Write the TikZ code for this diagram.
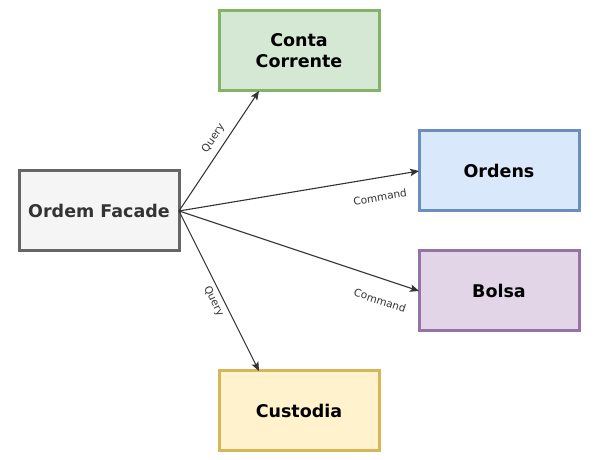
\documentclass[tikz,border=0pt]{standalone}
\usepackage{fontspec}
\setmainfont{DejaVu Sans}
\usetikzlibrary{arrows.meta}
\definecolor{grayfill}{HTML}{F5F5F5}
\definecolor{graystroke}{HTML}{666666}
\definecolor{greenfill}{HTML}{D5E8D4}
\definecolor{greenstroke}{HTML}{82B366}
\definecolor{bluefill}{HTML}{DAE8FC}
\definecolor{bluestroke}{HTML}{6C8EBF}
\definecolor{purplefill}{HTML}{E1D5E7}
\definecolor{purplestroke}{HTML}{9673A6}
\definecolor{yellowfill}{HTML}{FFF2CC}
\definecolor{yellowstroke}{HTML}{D6B656}
\definecolor{darktext}{HTML}{333333}
\tikzset{
  box/.style={draw, line width=3pt, minimum width=160pt, minimum height=80pt, outer sep=0pt,
    inner sep=0pt, align=center, font=\fontsize{17.5}{21}\selectfont\bfseries},
  conn/.style={draw=darktext, line width=1.1pt, -{Stealth[length=9pt,width=7.5pt,inset=2pt]}},
  lbl/.style={font=\fontsize{10.5}{12}\selectfont, text=darktext, inner sep=0pt}
}
\begin{document}
\begin{tikzpicture}[x=1pt,y=1pt]
\useasboundingbox (0,0) rectangle (595,460);
\node[box, fill=grayfill, draw=graystroke, text=darktext] (facade) at (99,249) {Ordem Facade};
\node[box, fill=greenfill, draw=greenstroke] (conta) at (299,409) {Conta\\Corrente};
\node[box, fill=bluefill, draw=bluestroke] (ordens) at (499,289) {Ordens};
\node[box, fill=purplefill, draw=purplestroke] (bolsa) at (499,169) {Bolsa};
\node[box, fill=yellowfill, draw=yellowstroke] (custodia) at (299,49) {Custodia};
\draw[conn] (facade.east) -- ([xshift=40pt]conta.south west);
\draw[conn] (facade.east) -- (ordens.west);
\draw[conn] (facade.east) -- (bolsa.west);
\draw[conn] (facade.east) -- ([xshift=40pt]custodia.north west);
\node[lbl, rotate=56.3] (q1) at (213.5,321.5) {Query};
\node[lbl, rotate=-63.4] (q2) at (213.5,158.5) {Query};
\node[lbl, rotate=9.46] (c1) at (380,263) {Command};
\node[lbl, rotate=-18.43] (c2) at (380,159.5) {Command};
\end{tikzpicture}
\end{document}
